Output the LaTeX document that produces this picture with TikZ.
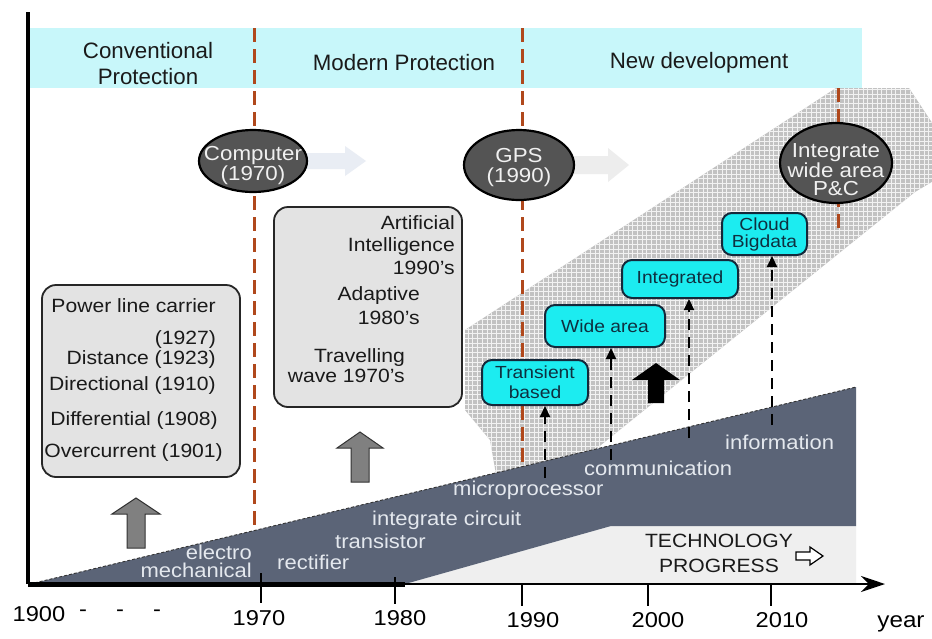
\documentclass[tikz,border=0pt]{standalone}
\usepackage{fontspec}
\setmainfont{Liberation Sans}[FakeStretch=1.1]
\newfontfamily\hdrfont{Liberation Sans}
\usetikzlibrary{arrows.meta,shapes.geometric}
\definecolor{band}{HTML}{C8F7FA}
\definecolor{slate}{HTML}{5B6477}
\definecolor{rust}{HTML}{B0481C}
\definecolor{boxgray}{HTML}{E3E3E3}
\definecolor{cyanbox}{HTML}{1CECF0}
\definecolor{navy}{HTML}{14283A}
\definecolor{ellfill}{HTML}{545454}
\definecolor{hatch}{HTML}{C2C2C2}
\definecolor{hatchline}{HTML}{F2F2F2}
\definecolor{labw}{HTML}{E4E8EE}
\definecolor{faint}{HTML}{E9EDF4}
\definecolor{txt}{HTML}{1A1A1A}
\definecolor{boxtxt}{HTML}{0E3040}
\definecolor{techbg}{HTML}{EFEFEF}
\newcommand\fs[1]{\fontsize{#1}{#1}\selectfont}
\tikzset{
  lab/.style={inner sep=0pt, anchor=mid west, text=labw, font=\fs{20}},
  boxtext/.style={inner sep=0pt, anchor=mid east, text=txt, font=\fs{19.2}},
  graybox/.style={draw=black!85, line width=1.8pt, fill=boxgray, rounded corners=14pt, inner sep=0pt},
  cybox/.style={draw=navy, line width=2pt, fill=cyanbox, rounded corners=10pt, inner sep=0pt, text=boxtxt, align=center},
  ell/.style={ellipse, draw=black, line width=2.2pt, fill=ellfill, inner sep=0pt},
  elltext/.style={text=white!94!black, inner sep=0pt, align=center},
  era/.style={rust, line width=3pt, dash pattern=on 14pt off 7pt},
  darr/.style={black, line width=2.2pt, dash pattern=on 11pt off 7pt, -{Triangle[length=11pt,width=10pt]}},
  hdr/.style={font=\hdrfont\fontsize{22.3}{26}\selectfont, text=txt, align=center, inner sep=0pt},
  yr/.style={font=\fs{21.5}, text=black, inner sep=0pt, anchor=mid},
  tick/.style={black, line width=1.5pt},
  bigarrow/.style={insert path={(465,330) -- (836,88) -- (909,88) -- (960,165) -- (915,192)
     -- (596,449) -- (560,500) -- (497,480) -- (490,440) -- (465,410) -- cycle}},
}
\begin{document}
\begin{tikzpicture}[x=1pt,y=-1pt]
\useasboundingbox (0,0) rectangle (932,638);
\fill[white] (0,0) rectangle (932,638);
% header band
\fill[band] (30,28) rectangle (862,88);
% big hatched arrow
\begin{scope}
  \clip (0,88) rectangle (932,638);
  \fill[hatch, bigarrow];
  \clip[bigarrow];
  \foreach \gx in {440,444.7,...,965} \draw[hatchline,line width=0.9pt] (\gx,80) -- (\gx,520);
  \foreach \gy in {80,84.7,...,520} \draw[hatchline,line width=0.9pt] (440,\gy) -- (965,\gy);
\end{scope}
% faint arrows
\fill[faint] (307,153) -- (345,153) -- (345,146) -- (366,161) -- (345,176) -- (345,169) -- (307,169) -- cycle;
\fill[black!7] (573,156) -- (608,156) -- (608,148) -- (629,165) -- (608,182) -- (608,174) -- (573,174) -- cycle;
% era lines
\draw[era] (254,28) -- (254,533);
\draw[era] (522,28) -- (522,466);
\draw[era] (838,88) -- (838,232);
% header texts
\node[hdr] (hconv) at (148,64) {Conventional\\Protection};
\node[hdr] (hmod) at (404,63) {Modern Protection};
\node[hdr] (hnew) at (699,63) {New development};
% ellipses
\node[ell, minimum width=108pt, minimum height=62pt] (comp) at (253,161) {};
\node[elltext, font=\fontsize{20.3}{20}\selectfont] (compt) at (253,166) {Computer\\(1970)};
\node[ell, minimum width=110pt, minimum height=70pt] (gps) at (519,165) {};
\node[elltext, font=\fontsize{20.3}{20}\selectfont] (gpst) at (519,168) {GPS\\(1990)};
\node[ell, minimum width=112pt, minimum height=80pt] (iwa) at (836,163) {};
\node[elltext, font=\fontsize{20.3}{18}\selectfont] (iwat) at (836,170) {Integrate\\wide area\\P\&C};
% gray boxes
\node[graybox, minimum width=198pt, minimum height=192pt] (box1) at (141,381) {};
\node[boxtext] (b1a) at (216,310) {Power line carrier};
\node[boxtext] (b1b) at (216,342) {(1927)};
\node[boxtext] (b1c) at (216,362) {Distance (1923)};
\node[boxtext] (b1d) at (216,388) {Directional (1910)};
\node[boxtext] (b1e) at (218,423) {Differential (1908)};
\node[boxtext] (b1f) at (223,455) {Overcurrent (1901)};
\node[graybox, minimum width=188pt, minimum height=200pt] (box2) at (368,307) {};
\node[boxtext] (b2a) at (455,227) {Artificial};
\node[boxtext] (b2b) at (455,249) {Intelligence};
\node[boxtext] (b2c) at (455,272) {1990's};
\node[boxtext] (b2d) at (420,298) {Adaptive};
\node[boxtext] (b2e) at (420,322) {1980's};
\node[boxtext] (b2f) at (405,360) {Travelling};
\node[boxtext] (b2g) at (405,380) {wave 1970's};
% gray up arrows
\fill[black!50, draw=black!80, line width=1pt] (127,548) -- (127,514) -- (112,514) -- (136,498) -- (160,514) -- (145,514) -- (145,548) -- cycle;
\fill[black!50, draw=black!80, line width=1pt] (351,482) -- (351,448) -- (337,448) -- (360,432) -- (383,448) -- (369,448) -- (369,482) -- cycle;
% black up arrow
\fill[black] (648,403) -- (648,380) -- (632,380) -- (656,363) -- (680,380) -- (664,380) -- (664,403) -- cycle;
% cyan boxes
\node[cybox, minimum width=106pt, minimum height=45pt, font=\fontsize{17.5}{20}\selectfont] (tb) at (535,382.5) {Transient\\based};
\node[cybox, minimum width=120pt, minimum height=42pt, font=\fontsize{17.5}{20}\selectfont] (wa) at (605,326) {Wide area};
\node[cybox, minimum width=116pt, minimum height=38pt, font=\fontsize{17.5}{20}\selectfont] (ig) at (680,279) {Integrated};
\node[cybox, minimum width=85pt, minimum height=42pt, font=\fontsize{17.5}{17}\selectfont] (cb) at (764.5,234) {Cloud\\Bigdata};
% technology polygon
\fill[techbg] (405,584) -- (611,526) -- (856,526) -- (856,584) -- cycle;
\fill[slate] (30,584) -- (856,387) -- (856,526) -- (611,526) -- (405,584) -- cycle;
\draw[black!80, line width=0.9pt, dash pattern=on 3pt off 2pt] (30,584) -- (856,387);
% dashed arrows
\coordinate (s1) at (545,478);
\coordinate (s2) at (611,460);
\coordinate (s3) at (689,438);
\coordinate (s4) at (772,425);
\draw[darr] (s1) -- (s1 |- tb.south);
\draw[darr] (s2) -- (s2 |- wa.south);
\draw[darr] (s3) -- (s3 |- ig.south);
\draw[darr] (s4) -- (s4 |- cb.south);
% technology labels
\node[lab, anchor=mid east] (el1) at (252,557) {electro};
\node[lab, anchor=mid east] (el2) at (252,575) {mechanical};
\node[lab] (rect) at (277,567) {rectifier};
\node[lab] (trans) at (335,546) {transistor};
\node[lab] (ic) at (372,523) {integrate circuit};
\node[lab] (mp) at (453,493) {microprocessor};
\node[lab] (comm) at (584,473) {communication};
\node[lab] (info) at (725,447) {information};
\node[font=\fontsize{19.2}{25}\selectfont, align=center, text=txt, inner sep=0pt] (tp) at (719,553) {TECHNOLOGY\\PROGRESS};
\draw[black, fill=white, line width=1.2pt] (796,552) -- (810,552) -- (810,547) -- (823,556) -- (810,565) -- (810,560) -- (796,560) -- cycle;
% axes
\coordinate (o) at (28,584);
\coordinate (yt) at (28,12);
\coordinate (xe) at (885,584);
\coordinate (xm) at (405,584);
\draw[black, line width=3.5pt] (yt) -- (o);
\draw[black, line width=2.5pt, -{Stealth[length=24pt,width=16pt]}] (o) -- (xe);
\draw[black, line width=5pt] (o) -- (xm);
% ticks
\draw[tick] (261,573) -- (261,603);
\draw[tick] (395,577) -- (395,604);
\draw[tick] (522,584) -- (522,606);
\draw[tick] (648,584) -- (648,606);
\draw[tick] (771,584) -- (771,606);
% year labels
\node[yr] (y1900) at (39,619) {1900};
\node[yr] (d1) at (83,614) {-};
\node[yr] (d2) at (120,614) {-};
\node[yr] (d3) at (157,614) {-};
\node[yr] (y1970) at (259,623) {1970};
\node[yr] (y1980) at (400,623) {1980};
\node[yr] (y1990) at (533,625) {1990};
\node[yr] (y2000) at (658,625) {2000};
\node[yr] (y2010) at (782,625) {2010};
\node[yr, font=\fs{22}] (yyear) at (901,625) {year};
\end{tikzpicture}
\end{document}
